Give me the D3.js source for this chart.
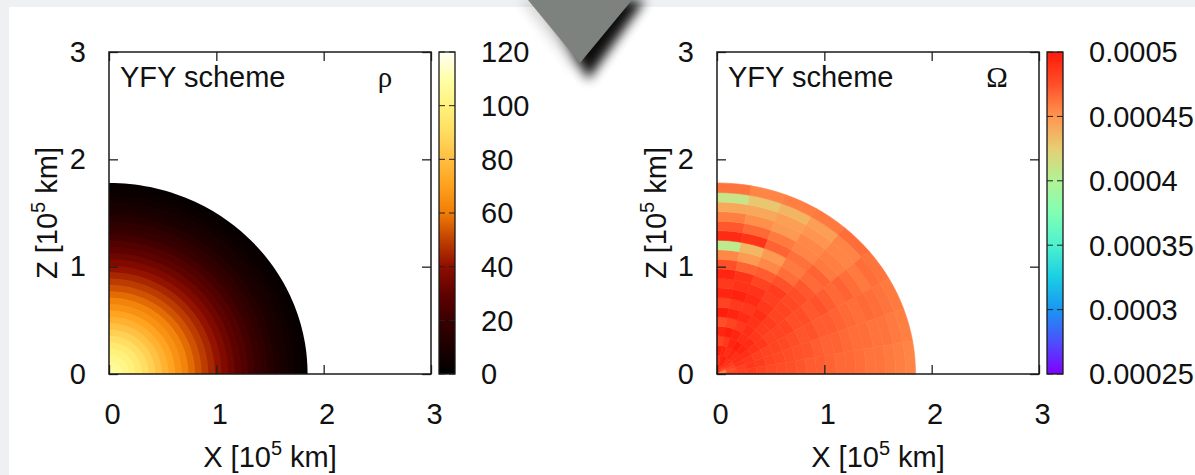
<!DOCTYPE html>
<html>
<head>
<meta charset="utf-8">
<script src="https://cdn.jsdelivr.net/npm/d3@7"></script>
<style>
  body { margin: 0; background: #eff0f2; }
  svg { display: block; }
  text { font-family: "Liberation Sans", Arial, sans-serif; fill: #111; }
</style>
</head>
<body>
<svg width="1195" height="475"></svg>
<script>
// axis ticks (10^5 km)
var xTicks = [0, 1, 2, 3];
var zTicks = [0, 1, 2, 3];

// stellar surface, equator and pole (10^5 km)
var rEquator = 1.85;
var rPole = 1.78;

// density per radial shell, centre -> surface
var rhoShells = [108, 106, 103, 100, 96, 91, 86, 81, 76, 71, 66, 62, 57, 53, 49,
                 45, 41, 37, 33, 29, 26, 22, 19, 16, 13, 10, 8, 6, 4, 2];
var rhoTicks = [0, 20, 40, 60, 80, 100, 120];
var rhoStops = [0, 10, 20, 30, 40, 50, 60, 70, 80, 90, 100, 110, 120];
var rhoColors = ["#000000", "#1c0000", "#3a0000", "#600200", "#8e0e00", "#c04000", "#f07d06",
                 "#ffa01e", "#ffbe40", "#ffdc60", "#fff27c", "#ffffaa", "#fffff4"];

// omega [1e-4 rad/s], rows = radial shells (centre -> surface),
// cols = 10 degree sectors from the pole to the equator
var omegaGrid = [
  [4.95, 4.95, 4.90, 4.90, 4.85, 4.80, 4.60, 4.55, 4.65],
  [4.85, 4.95, 4.98, 4.90, 4.90, 4.85, 4.80, 4.75, 4.80],
  [4.98, 4.95, 4.90, 4.95, 4.90, 4.90, 4.88, 4.82, 4.82],
  [4.80, 4.85, 4.95, 4.98, 4.95, 4.90, 4.86, 4.86, 4.84],
  [4.95, 4.98, 4.95, 4.90, 4.92, 4.88, 4.82, 4.84, 4.80],
  [4.75, 4.80, 4.85, 4.90, 4.86, 4.86, 4.80, 4.80, 4.78],
  [4.98, 4.95, 4.92, 4.88, 4.84, 4.80, 4.80, 4.78, 4.76],
  [4.80, 4.85, 4.86, 4.90, 4.84, 4.80, 4.78, 4.76, 4.75],
  [4.95, 4.96, 4.92, 4.86, 4.80, 4.80, 4.76, 4.74, 4.73],
  [4.85, 4.88, 4.88, 4.82, 4.80, 4.75, 4.73, 4.73, 4.70],
  [4.95, 4.88, 4.80, 4.84, 4.78, 4.76, 4.74, 4.70, 4.70],
  [4.75, 4.68, 4.70, 4.74, 4.76, 4.72, 4.70, 4.68, 4.68],
  [4.55, 4.48, 4.55, 4.64, 4.72, 4.74, 4.70, 4.68, 4.66],
  [4.05, 4.35, 4.48, 4.60, 4.65, 4.70, 4.68, 4.66, 4.66],
  [4.92, 4.88, 4.68, 4.63, 4.68, 4.66, 4.66, 4.64, 4.64],
  [4.72, 4.66, 4.60, 4.56, 4.60, 4.68, 4.64, 4.64, 4.62],
  [4.58, 4.52, 4.48, 4.55, 4.58, 4.64, 4.66, 4.62, 4.62],
  [4.42, 4.42, 4.46, 4.50, 4.56, 4.60, 4.64, 4.62, 4.60],
  [4.10, 4.28, 4.36, 4.46, 4.56, 4.64, 4.62, 4.60, 4.58],
  [4.62, 4.56, 4.58, 4.60, 4.64, 4.62, 4.60, 4.58, 4.56]
];
var omegaTicks = [2.5, 3, 3.5, 4, 4.5, 5];
var omegaLabels = ["0.00025", "0.0003", "0.00035", "0.0004", "0.00045", "0.0005"];
var omegaStops = [2.5, 2.75, 3, 3.25, 3.5, 3.75, 4, 4.25, 4.5, 4.75, 5];
var omegaColors = ["#8000ff", "#4d4ffc", "#1a96f2", "#1acee3", "#4cf2ce", "#80ffb4",
                   "#b2f296", "#e6ce74", "#ff964f", "#ff4f28", "#ff1a0a"];

(() => {
    var svg = d3.select("svg");
    var defs = svg.append("defs");
    var fs = "29px";

    // page background + card
    svg.append("rect").attr("width", 1195).attr("height", 475).attr("fill", "#eff0f2");
    svg.append("rect").attr("x", 9).attr("y", 7).attr("width", 1186).attr("height", 468).attr("fill", "#fff");

    // a point on the (oblate) shell q at angle t from the pole
    function pt(q, t) {
        return [q * rEquator * Math.sin(t), q * rPole * Math.cos(t)];
    }

    function drawPanel(p) {
        var x = d3.scaleLinear().domain([0, 3]).range([p.left, p.left + 322]);
        var y = d3.scaleLinear().domain([0, 3]).range([374, 52]);
        var line = d3.line().x(d => x(d[0])).y(d => y(d[1]));
        var g = svg.append("g");
        var fmt = d3.format("d");

        // field
        p.draw(g, line);

        // inner ticks on all four sides
        g.append("g").attr("transform", "translate(0,374)")
            .call(d3.axisBottom(x).tickValues(xTicks).tickFormat(fmt).tickSizeInner(-9).tickSizeOuter(0).tickPadding(29))
            .call(a => a.select(".domain").remove())
            .call(a => a.selectAll("text").attr("dx", 3));
        g.append("g").attr("transform", "translate(0,52)")
            .call(d3.axisTop(x).tickValues(xTicks).tickSizeInner(-9).tickSizeOuter(0).tickFormat(""))
            .call(a => a.select(".domain").remove());
        g.append("g").attr("transform", "translate(" + p.left + ",0)")
            .call(d3.axisLeft(y).tickValues(zTicks).tickFormat(fmt).tickSizeInner(-9).tickSizeOuter(0).tickPadding(23))
            .call(a => a.select(".domain").remove());
        g.append("g").attr("transform", "translate(" + (p.left + 322) + ",0)")
            .call(d3.axisRight(y).tickValues(zTicks).tickSizeInner(-9).tickSizeOuter(0).tickFormat(""))
            .call(a => a.select(".domain").remove());
        g.selectAll(".tick line").attr("stroke", "#222").attr("stroke-width", 1.3);
        g.selectAll(".tick text").style("font-size", fs).attr("fill", "#111");

        g.append("rect").attr("x", p.left).attr("y", 52).attr("width", 322).attr("height", 322)
            .attr("fill", "none").attr("stroke", "#1a1a1a").attr("stroke-width", 1.5);

        // labels
        g.append("text").attr("x", p.left + 11).attr("y", 87).style("font-size", fs).text("YFY scheme");
        g.append("text").attr("x", p.symX).attr("y", 87).attr("text-anchor", "middle")
            .style("font-family", "'Liberation Serif', 'DejaVu Serif', serif").style("font-size", fs).text(p.sym);

        var xt = g.append("text").attr("x", p.left + 161).attr("y", 467).attr("text-anchor", "middle").style("font-size", fs);
        xt.append("tspan").text("X [10");
        xt.append("tspan").attr("dy", -12).style("font-size", "20px").text("5");
        xt.append("tspan").attr("dy", 12).text(" km]");

        var zt = g.append("text").attr("transform", "translate(" + p.titleX + ",213) rotate(-90)")
            .attr("text-anchor", "middle").style("font-size", fs);
        zt.append("tspan").text("Z [10");
        zt.append("tspan").attr("dy", -12).style("font-size", "20px").text("5");
        zt.append("tspan").attr("dy", 12).text(" km]");

        // colour bar
        var cx = p.left + 330;
        var cy = d3.scaleLinear().domain(p.cDomain).range([374, 52]);
        var grad = defs.append("linearGradient").attr("id", p.id)
            .attr("x1", 0).attr("y1", 1).attr("x2", 0).attr("y2", 0);
        p.stops.forEach((s, i) => {
            grad.append("stop")
                .attr("offset", (s - p.cDomain[0]) / (p.cDomain[1] - p.cDomain[0]))
                .attr("stop-color", p.colors[i]);
        });
        g.append("rect").attr("x", cx).attr("y", 52).attr("width", 16).attr("height", 322)
            .attr("fill", "url(#" + p.id + ")").attr("stroke", "#1a1a1a").attr("stroke-width", 1.3);
        p.cTicks.forEach((v, i) => {
            g.append("line").attr("x1", cx).attr("x2", cx + 6).attr("y1", cy(v)).attr("y2", cy(v)).attr("stroke", "#222");
            g.append("line").attr("x1", cx + 10).attr("x2", cx + 16).attr("y1", cy(v)).attr("y2", cy(v)).attr("stroke", "#222");
            g.append("text").attr("x", cx + 42).attr("y", cy(v)).attr("dy", "0.36em")
                .style("font-size", fs).text(p.cLabels[i]);
        });
    }

    // density panel
    var rhoColor = d3.scaleLinear().domain(rhoStops).range(rhoColors).clamp(true);
    drawPanel({
        left: 109, id: "rhoBar", sym: "\u03c1", symX: 385, titleX: 57,
        cDomain: [0, 120], cTicks: rhoTicks, cLabels: rhoTicks.map(String),
        stops: rhoStops, colors: rhoColors,
        draw: function (g, line) {
            var n = rhoShells.length;
            for (var i = n - 1; i >= 0; i--) {
                var q = (i + 1) / n;
                var pts = [[0, 0]].concat(d3.range(0, 91, 1.5).map(a => pt(q, a * Math.PI / 180)));
                g.append("path").attr("d", line(pts) + "Z").attr("fill", rhoColor(rhoShells[i]));
            }
        }
    });

    // angular velocity panel
    var omegaColor = d3.scaleLinear().domain(omegaStops).range(omegaColors).clamp(true);
    drawPanel({
        left: 717, id: "omegaBar", sym: "\u03a9", symX: 997, titleX: 666,
        cDomain: [2.5, 5], cTicks: omegaTicks, cLabels: omegaLabels,
        stops: omegaStops, colors: omegaColors,
        draw: function (g, line) {
            var ns = omegaGrid.length;
            omegaGrid.forEach((row, i) => {
                var q0 = i / ns, q1 = (i + 1) / ns;
                row.forEach((v, j) => {
                    var t0 = j * 10, t1 = (j + 1) * 10;
                    var outer = d3.range(t0, t1 + 0.1, 2.5).map(a => pt(q1, a * Math.PI / 180));
                    var inner = d3.range(t1, t0 - 0.1, -2.5).map(a => pt(q0, a * Math.PI / 180));
                    g.append("path").attr("d", line(outer.concat(inner)) + "Z")
                        .attr("fill", omegaColor(v)).attr("stroke", omegaColor(v)).attr("stroke-width", 0.6);
                });
            });
        }
    });

    // folded corner between the panels
    var blur = defs.append("filter").attr("id", "soft").attr("x", "-50%").attr("y", "-50%").attr("width", "200%").attr("height", "200%");
    blur.append("feGaussianBlur").attr("stdDeviation", 6);
    svg.append("polygon").attr("points", "520,0 628,0 576,72").attr("fill", "#000").attr("opacity", 0.15).attr("filter", "url(#soft)");
    svg.append("polygon").attr("points", "545,0 645,0 588,80").attr("fill", "#000").attr("opacity", 0.95).attr("filter", "url(#soft)");
    svg.append("polygon").attr("points", "528,0 632,0 580,63").attr("fill", "#7d827f");
})();
</script>
</body>
</html>
